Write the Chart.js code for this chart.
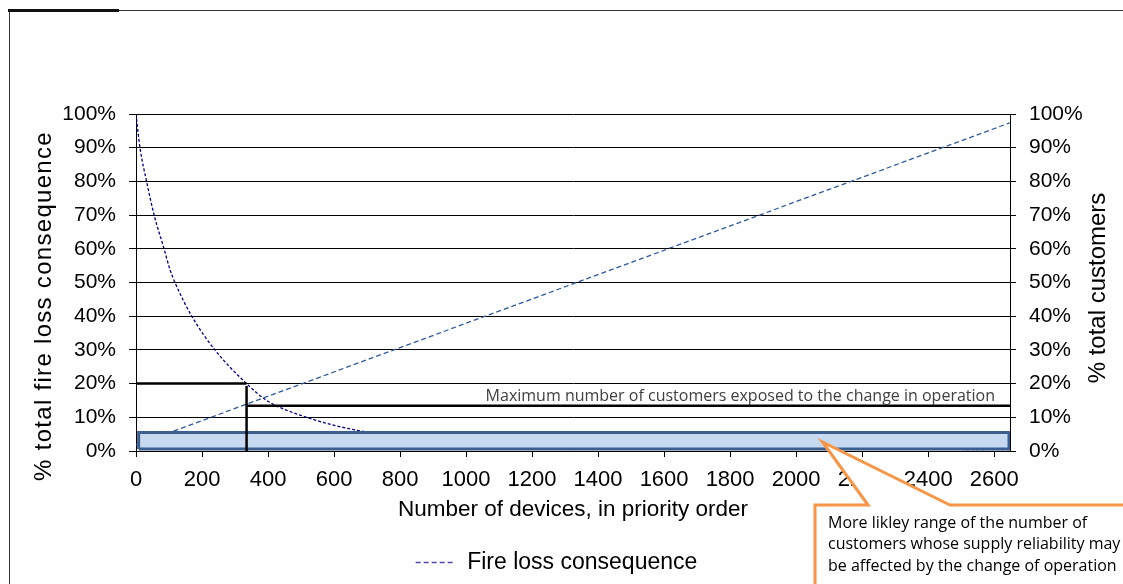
<!DOCTYPE html>
<html>
<head>
<meta charset="utf-8">
<script src="https://cdn.jsdelivr.net/npm/chart.js@4/dist/chart.umd.min.js"></script>
<style>
  body { margin: 0; background: #fff; }
  #wrap { position: relative; width: 1123px; height: 584px; overflow: hidden; }
  #frame { position: absolute; left: 9px; top: 10px; width: 1200px; height: 700px; border-left: 1px solid #333; border-top: 1px solid #333; }
  #tab { position: absolute; left: 8px; top: 9px; width: 111px; height: 3px; background: #111; }
  canvas { position: absolute; left: 0; top: 0; }
</style>
</head>
<body>
<div id="wrap">
  <div id="frame"></div>
  <div id="tab"></div>
  <canvas id="myChart" width="1123" height="584"></canvas>
</div>
<script>
// fire loss consequence (left axis) against number of devices
const fireDevices = [0, 12, 32, 55, 85, 103, 118, 169, 239, 335, 396, 517, 688, 900, 1200, 1600, 2000, 2400, 2648];
const firePct = [100, 90, 80, 70, 60, 53.8, 50, 40, 30, 20, 15, 10, 5.8, 3.6, 2.2, 1.3, 0.8, 0.5, 0.4];

// total customers (right axis)
const custDevices = [0, 2648];
const custPct = [1.8, 97.4];

// marker lines
const markDevices = 335;
const markFirePct = 20;
const markCustPct = 13.4;

// more likely range box
const rangeDevices = [8, 2645];
const rangePct = [0.6, 5.5];

// where the callout points
const calloutTip = [2080, 2.7];

const xMax = 2648;
const xStep = 200;
const yStep = 10;

const maxLabel = 'Maximum number of customers exposed to the change in operation';
const calloutLines = [
  'More likley range of the number of',
  'customers whose supply reliability may',
  'be affected by the change of operation'
];

Chart.defaults.font.family = '"Liberation Sans", Arial, sans-serif';
Chart.defaults.color = '#000';

const pts = (xs, ys) => xs.map((v, i) => ({x: v, y: ys[i]}));

const extras = {
  id: 'extras',
  afterDatasetsDraw(chart) {
    const {ctx, chartArea, scales: {y}} = chart;
    ctx.save();
    ctx.font = '16px "Open Sans"';
    ctx.fillStyle = '#404040';
    ctx.textAlign = 'right';
    ctx.fillText(maxLabel, chartArea.right - 15, y.getPixelForValue(markCustPct) - 9);
    ctx.restore();
  },
  afterDraw(chart) {
    const {ctx, scales: {x, y}} = chart;
    ctx.save();
    // axis titles, both reading bottom to top
    ctx.font = '24px "Liberation Sans", Arial';
    ctx.fillStyle = '#000';
    ctx.textAlign = 'center';
    ctx.textBaseline = 'middle';
    ctx.save();
    ctx.translate(44, 306);
    ctx.rotate(-Math.PI / 2);
    ctx.letterSpacing = '1.3px';
    ctx.fillText('% total fire loss consequence', 0, 0);
    ctx.restore();
    ctx.save();
    ctx.translate(1098, 288);
    ctx.rotate(-Math.PI / 2);
    ctx.fillText('% total customers', 0, 0);
    ctx.restore();

    // callout
    const tx = x.getPixelForValue(calloutTip[0]);
    const ty = y.getPixelForValue(calloutTip[1]);
    ctx.beginPath();
    ctx.moveTo(868, 505);
    ctx.lineTo(tx, ty);
    ctx.lineTo(950, 505);
    ctx.lineTo(1140, 505);
    ctx.lineTo(1140, 600);
    ctx.lineTo(815, 600);
    ctx.lineTo(815, 505);
    ctx.closePath();
    ctx.fillStyle = '#fff';
    ctx.fill();
    ctx.lineWidth = 3;
    ctx.lineJoin = 'miter';
    ctx.strokeStyle = '#f79646';
    ctx.stroke();

    ctx.font = '16px "Open Sans"';
    ctx.fillStyle = '#000';
    ctx.textAlign = 'left';
    calloutLines.forEach((t, i) => ctx.fillText(t, 828, 523 + i * 21.5));
    ctx.restore();
  }
};

const data = {
  datasets: [
    {
      label: 'Fire loss consequence',
      data: pts(fireDevices, firePct),
      yAxisID: 'y',
      borderColor: '#000080',
      borderWidth: 1.3,
      borderDash: [3, 2],
      cubicInterpolationMode: 'monotone',
      order: 3
    },
    {
      label: 'Customers',
      data: pts(custDevices, custPct),
      yAxisID: 'y2',
      borderColor: '#2e5a9c',
      borderWidth: 1.3,
      borderDash: [5, 3],
      order: 2
    },
    {
      label: 'Range',
      data: pts([rangeDevices[0], rangeDevices[1], rangeDevices[1], rangeDevices[0], rangeDevices[0]],
                [rangePct[0], rangePct[0], rangePct[1], rangePct[1], rangePct[0]]),
      yAxisID: 'y2',
      borderColor: '#3b5f8f',
      backgroundColor: '#c6d9f1',
      borderWidth: 3,
      fill: 'shape',
      order: 1
    },
    {
      label: 'mark1',
      data: pts([0, markDevices], [markFirePct, markFirePct]),
      borderColor: '#000',
      borderWidth: 2.5,
      order: 0
    },
    {
      label: 'mark2',
      data: pts([markDevices, markDevices], [markFirePct - 0.7, 0]),
      borderColor: '#000',
      borderWidth: 2.5,
      order: 0
    },
    {
      label: 'mark3',
      data: pts([markDevices + 2, xMax], [markCustPct, markCustPct]),
      yAxisID: 'y2',
      borderColor: '#000',
      borderWidth: 2.5,
      order: 0
    }
  ]
};
data.datasets.forEach(d => { d.showLine = true; d.pointRadius = 0; });

const config = {
  type: 'scatter',
  data: data,
  plugins: [extras],
  options: {
    responsive: false,
    animation: false,
    layout: { padding: { left: 0, right: 10, top: 114, bottom: 0 } },
    plugins: {
      tooltip: { enabled: false },
      legend: {
        position: 'bottom',
        labels: {
          filter: item => item.text === 'Fire loss consequence',
          generateLabels: chart => Chart.defaults.plugins.legend.labels.generateLabels(chart)
            .map(l => ({...l, lineDash: [5, 3], strokeStyle: '#4a4ab0', lineWidth: 1.3})),
          usePointStyle: true,
          pointStyle: 'line',
          pointStyleWidth: 40,
          color: '#000',
          font: { size: 23 },
          padding: 10
        }
      }
    },
    scales: {
      x: {
        type: 'linear',
        min: 0,
        max: xMax,
        ticks: { stepSize: xStep, includeBounds: false, autoSkip: false, padding: 10,
                 font: { size: 22 }, maxRotation: 0, callback: v => String(v) },
        grid: { drawOnChartArea: false, color: '#000', tickLength: 6 },
        border: { color: '#000' },
        title: { display: true, text: 'Number of devices, in priority order',
                 font: { size: 22.5 }, padding: { top: 0, bottom: 18 } },
        afterFit: s => { s.height = 90; }
      },
      y: {
        position: 'left',
        min: 0,
        max: 100,
        ticks: { stepSize: yStep, padding: 13, font: { size: 21 }, callback: v => v + '%' },
        grid: { color: '#000', tickLength: 7 },
        border: { color: '#000' },
        afterFit: s => { s.width = 136; }
      },
      y2: {
        position: 'right',
        min: 0,
        max: 100,
        ticks: { stepSize: yStep, padding: 13, font: { size: 21 }, callback: v => v + '%' },
        grid: { drawOnChartArea: false, color: '#000', tickLength: 6 },
        border: { color: '#000' },
        afterFit: s => { s.width = 103; }
      }
    }
  }
};

const myChart = new Chart(document.getElementById('myChart'), config);
</script>
</body>
</html>
